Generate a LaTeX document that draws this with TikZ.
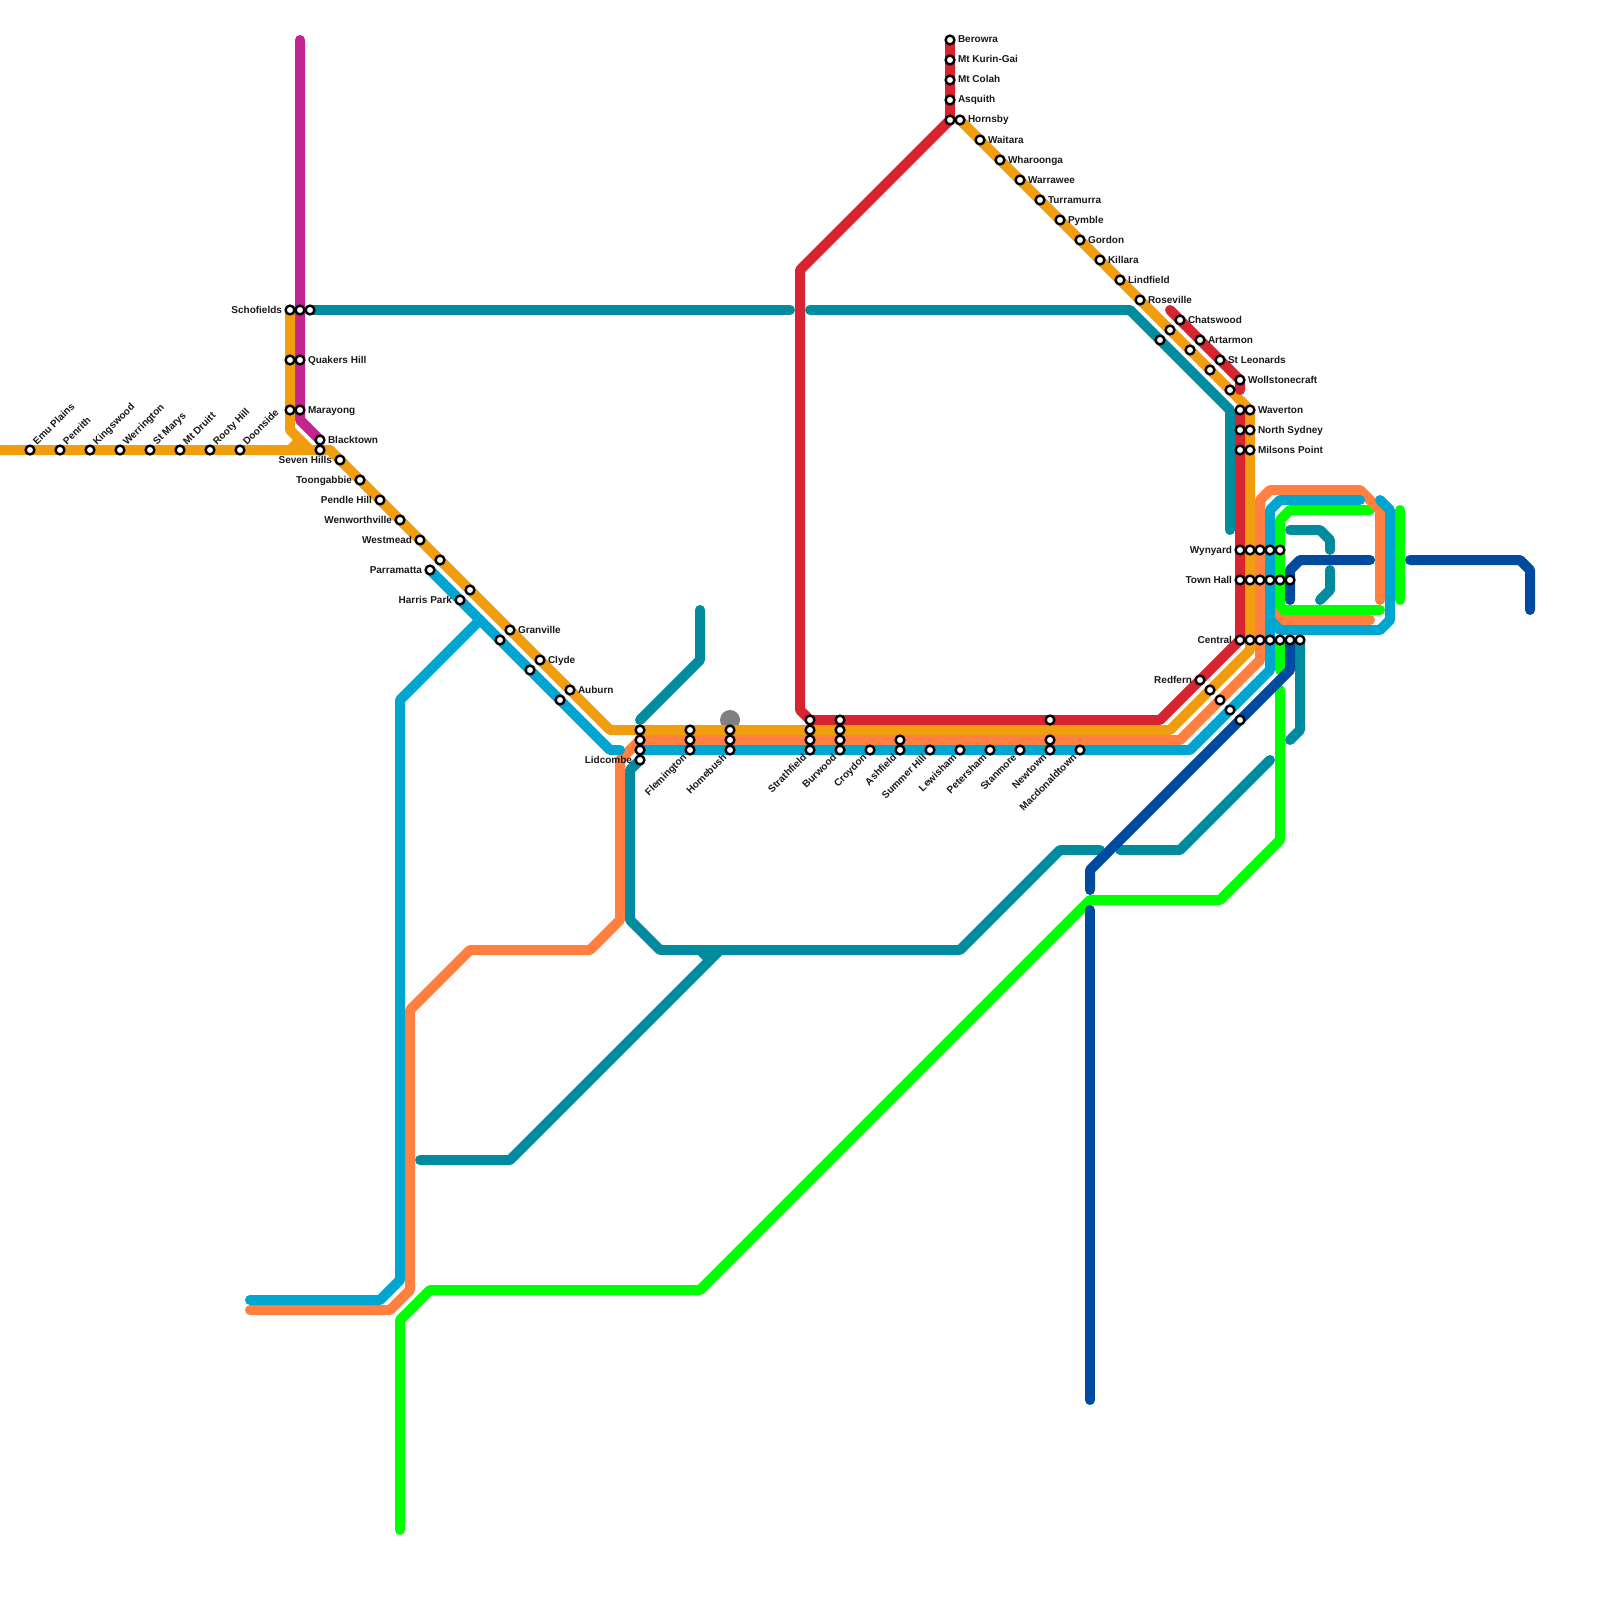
\documentclass[tikz,border=0pt]{standalone}
\usepackage{fontspec}
\setmainfont{Liberation Sans}
\definecolor{cGold}{HTML}{F09E0F}
\definecolor{cRed}{HTML}{D62431}
\definecolor{cTeal}{HTML}{008B9E}
\definecolor{cBlue}{HTML}{00A6CF}
\definecolor{cCoral}{HTML}{FF8040}
\definecolor{cGreen}{HTML}{00FF00}
\definecolor{cNavy}{HTML}{004A9F}
\definecolor{cMag}{HTML}{C3248F}
\pgfdeclarelayer{lines}
\pgfsetlayers{lines,main}
\tikzset{
 route/.style={line width=10pt,line cap=round,line join=round},
 stopdot/.style={circle,draw=black,fill=white,line width=2.4pt,minimum size=8.8pt,inner sep=0pt,outer sep=0pt},
 lab/.style={font=\bfseries\fontsize{10}{12}\selectfont,inner sep=0pt,outer sep=0pt,text height=6pt,text depth=0pt,text=black!90},
 hub/.style={circle,fill=gray,draw=none,minimum size=20pt,inner sep=0pt}
}
\newcommand{\stn}[2]{\node[stopdot] (s#1-#2) at (#1,#2) {};}
\newcommand{\stnR}[3]{\stn{#1}{#2}\node[lab,anchor=west] (l#1-#2) at (#1+8,#2) {#3};}
\newcommand{\stnL}[3]{\stn{#1}{#2}\node[lab,anchor=east] (l#1-#2) at (#1-8,#2) {#3};}
\newcommand{\stnU}[3]{\stn{#1}{#2}\node[lab,anchor=west,rotate=45] (l#1-#2) at (#1+5,#2-6.5) {#3};}
\newcommand{\stnD}[3]{\stn{#1}{#2}\node[lab,anchor=east,rotate=45] (l#1-#2) at (#1-5,#2+6) {#3};}
\begin{document}
\begin{tikzpicture}[x=1pt,y=-1pt]
\useasboundingbox (0,0) rectangle (1600,1600);
\clip (0,0) rectangle (1600,1600);
% stops
\stnR{950}{40}{Berowra}\stnR{950}{60}{Mt Kurin-Gai}\stnR{950}{80}{Mt Colah}\stnR{950}{100}{Asquith}
\stn{950}{120}\stnR{960}{120}{Hornsby}\stnR{980}{140}{Waitara}\stnR{1000}{160}{Wharoonga}\stnR{1020}{180}{Warrawee}
\stnR{1040}{200}{Turramurra}\stnR{1060}{220}{Pymble}\stnR{1080}{240}{Gordon}\stnR{1100}{260}{Killara}
\stnR{1120}{280}{Lindfield}\stnR{1140}{300}{Roseville}
\stnR{1180}{320}{Chatswood}\stnR{1200}{340}{Artarmon}\stnR{1220}{360}{St Leonards}\stnR{1240}{380}{Wollstonecraft}
\stn{1170}{330}\stn{1160}{340}\stn{1190}{350}\stn{1210}{370}\stn{1230}{390}
\stn{1240}{410}\stnR{1250}{410}{Waverton}\stn{1240}{430}\stnR{1250}{430}{North Sydney}\stn{1240}{450}\stnR{1250}{450}{Milsons Point}
\stnL{1240}{550}{Wynyard}\foreach \x in {1250,1260,1270,1280}{\stn{\x}{550}}
\stnL{1240}{580}{Town Hall}\foreach \x in {1250,1260,1270,1280,1290}{\stn{\x}{580}}
\stnL{1240}{640}{Central}\foreach \x in {1250,1260,1270,1280,1290,1300}{\stn{\x}{640}}
\stnL{1200}{680}{Redfern}\stn{1210}{690}\stn{1220}{700}\stn{1230}{710}\stn{1240}{720}
\stnL{290}{310}{Schofields}\stn{300}{310}\stn{310}{310}
\stn{290}{360}\stnR{300}{360}{Quakers Hill}\stn{290}{410}\stnR{300}{410}{Marayong}
\stnR{320}{440}{Blacktown}\stn{320}{450}
\stnL{340}{460}{Seven Hills}\stnL{360}{480}{Toongabbie}\stnL{380}{500}{Pendle Hill}\stnL{400}{520}{Wenworthville}\stnL{420}{540}{Westmead}
\stn{440}{560}\stnL{430}{570}{Parramatta}\stn{470}{590}\stnL{460}{600}{Harris Park}
\stnR{510}{630}{Granville}\stn{500}{640}\stnR{540}{660}{Clyde}\stn{530}{670}\stnR{570}{690}{Auburn}\stn{560}{700}
\stnU{30}{450}{Emu Plains}\stnU{60}{450}{Penrith}\stnU{90}{450}{Kingswood}\stnU{120}{450}{Werrington}
\stnU{150}{450}{St Marys}\stnU{180}{450}{Mt Druitt}\stnU{210}{450}{Rooty Hill}\stnU{240}{450}{Doonside}
\stn{640}{730}\stn{640}{740}\stn{640}{750}\stnL{640}{760}{Lidcombe}
\stn{690}{730}\stn{690}{740}\stnD{690}{750}{Flemington}
\stn{730}{730}\stn{730}{740}\stnD{730}{750}{Homebush}
\stn{810}{720}\stn{810}{730}\stn{810}{740}\stnD{810}{750}{Strathfield}
\stn{840}{720}\stn{840}{730}\stn{840}{740}\stnD{840}{750}{Burwood}
\stnD{870}{750}{Croydon}\stn{900}{740}\stnD{900}{750}{Ashfield}\stnD{930}{750}{Summer Hill}
\stnD{960}{750}{Lewisham}\stnD{990}{750}{Petersham}\stnD{1020}{750}{Stanmore}
\stn{1050}{720}\stn{1050}{740}\stnD{1050}{750}{Newtown}\stnD{1080}{750}{Macdonaldtown}
\begin{pgfonlayer}{lines}
\node[hub] (hub) at (730,720) {};
% green runs under the loop lines at Central
\draw[route,cGreen] (1400,510) -- (1400,600);
\draw[route,cGreen] (1370,510) -- (1290,510) -- (1280,520) -- (1280,610) -- (1380,610);
\draw[route,cGreen] (s1280-640.center) -- (1280,670);
\draw[route,cGreen] (1280,690) -- (1280,840) -- (1220,900) -- (1090,900) -- (700,1290) -- (430,1290) -- (400,1320) -- (400,1530);
% teal
\draw[route,cTeal] (s310-310.center) -- (790,310);
\draw[route,cTeal] (810,310) -- (1130,310) -- (1230,410) -- (1230,530);
\draw[route,cTeal] (640,720) -- (700,660) -- (700,610);
\draw[route,cTeal] (s640-760.center) -- (630,770) -- (630,920) -- (660,950) -- (960,950) -- (1060,850) -- (1100,850);
\draw[route,cTeal] (1120,850) -- (1180,850) -- (1270,760);
\draw[route,cTeal] (420,1160) -- (510,1160) -- (720,950);
\draw[route,cTeal] (710,960) -- (700,950);
\draw[route,cTeal] (1290,530) -- (1320,530) -- (1330,540) -- (1330,550);
\draw[route,cTeal] (1330,570) -- (1330,590) -- (1320,600);
\draw[route,cTeal] (s1300-640.center) -- (1300,730) -- (1290,740);
% navy
\draw[route,cNavy] (1090,1400) -- (1090,910);
\draw[route,cNavy] (1090,890) -- (1090,870) -- (1290,670) -- (s1290-640.center);
\draw[route,cNavy] (1290,600) -- (1290,570) -- (1300,560) -- (1370,560);
\draw[route,cNavy] (1410,560) -- (1520,560) -- (1530,570) -- (1530,610);
% magenta
\draw[route,cMag] (300,40) -- (300,420) -- (s320-440.center);
% coral
\draw[route,cCoral] (1380,600) -- (1380,510) -- (1360,490) -- (1270,490) -- (1260,500) -- (1260,660) -- (1180,740) -- (640,740) -- (620,760) -- (620,920) -- (590,950) -- (470,950) -- (410,1010) -- (410,1290) -- (390,1310) -- (250,1310);
\draw[route,cCoral] (1270,610) -- (1280,620) -- (1370,620);
% blue
\draw[route,cBlue] (1360,500) -- (1280,500) -- (1270,510) -- (1270,670) -- (1190,750) -- (s640-750.center);
\draw[route,cBlue] (1380,500) -- (1390,510) -- (1390,620) -- (1380,630) -- (1280,630) -- (1270,620);
\draw[route,cBlue] (s430-570.center) -- (610,750) -- (620,750);
\draw[route,cBlue] (480,620) -- (400,700) -- (400,1280) -- (380,1300) -- (250,1300);
% gold
\draw[route,cGold] (s960-120.center) -- (1250,410) -- (1250,650) -- (1170,730) -- (610,730) -- (330,450) -- (-10,450);
\draw[route,cGold] (s290-310.center) -- (290,430) -- (310,450) -- (330,450);
\draw[route,cGold] (280,450) -- (290,450) -- (300,440);
% red
\draw[route,cRed] (s950-40.center) -- (s950-120.center) -- (800,270) -- (800,710) -- (s810-720.center) -- (1160,720) -- (s1240-640.center) -- (s1240-410.center);
\draw[route,cRed] (1170,310) -- (s1240-380.center) -- (1240,390);
\end{pgfonlayer}
\end{tikzpicture}
\end{document}
